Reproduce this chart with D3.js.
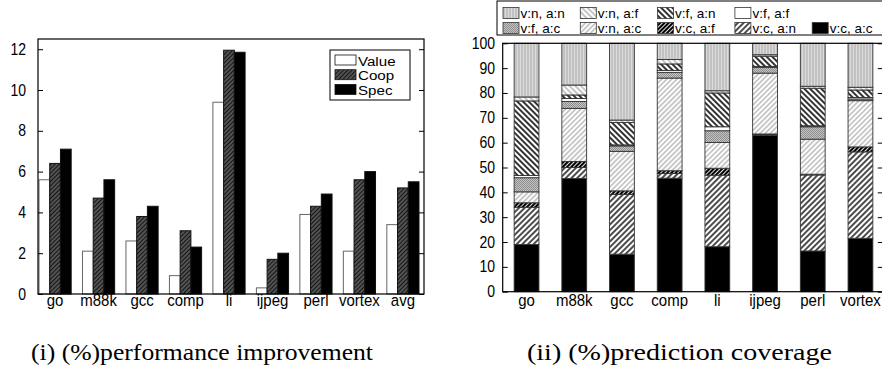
<!DOCTYPE html>
<html>
<head>
<meta charset="utf-8">
<script src="https://cdn.jsdelivr.net/npm/d3@7"></script>
<style>
  body { margin: 0; background: #fff; }
  svg { display: block; }
  .tick-label { font-family: "Liberation Sans", Arial, sans-serif; font-size: 15px; fill: #000; }
  .caption { font-family: "Liberation Serif", "DejaVu Serif", serif; font-size: 23px; fill: #000; }
</style>
</head>
<body>
<svg id="fig" width="882" height="374"></svg>
<script>
// ---- data: (i) performance improvement ----
const perfCats = ["go", "m88k", "gcc", "comp", "li", "ijpeg", "perl", "vortex", "avg"];
const perfSeries = ["Value", "Coop", "Spec"];
const valueImp = [5.6, 2.1, 2.6, 0.9, 9.4, 0.3, 3.9, 2.1, 3.4];
const coopImp = [6.4, 4.7, 3.8, 3.1, 11.95, 1.7, 4.3, 5.6, 5.2];
const specImp = [7.1, 5.6, 4.3, 2.3, 11.85, 2.0, 4.9, 6.0, 5.5];
const perfTicks = [0, 2, 4, 6, 8, 10, 12];

// ---- data: (ii) prediction coverage (stack order bottom -> top) ----
const covCats = ["go", "m88k", "gcc", "comp", "li", "ijpeg", "perl", "vortex"];
const covKeys = ["v:c, a:c", "v:c, a:n", "v:c, a:f", "v:n, a:c", "v:f, a:c", "v:f, a:f", "v:f, a:n", "v:n, a:f", "v:n, a:n"];
const vcac = [19.0, 45.6, 15.1, 45.7, 18.1, 63.0, 16.4, 21.5];
const vcan = [15.0, 4.4, 24.1, 1.9, 28.8, 0.3, 30.6, 34.8];
const vcaf = [1.8, 2.4, 1.4, 1.1, 2.8, 0.2, 0.3, 2.0];
const vnac = [4.4, 21.4, 15.9, 37.3, 10.4, 24.5, 14.1, 18.6];
const vfac = [5.7, 2.8, 2.2, 2.3, 4.7, 2.3, 5.0, 0.7];
const vfaf = [0.9, 1.2, 0.4, 0.8, 1.6, 0.4, 0.4, 0.6];
const vfan = [30.0, 1.4, 9.0, 2.6, 13.6, 4.1, 15.1, 3.0];
const vnaf = [1.6, 4.0, 1.0, 1.8, 0.9, 0.6, 0.8, 1.1];
const vnan = [21.6, 16.8, 30.9, 6.5, 19.1, 4.6, 17.3, 17.7];
const covTicks = [0, 10, 20, 30, 40, 50, 60, 70, 80, 90, 100];
const legendOrder = ["v:n, a:n", "v:n, a:f", "v:f, a:n", "v:f, a:f", "v:f, a:c", "v:n, a:c", "v:c, a:f", "v:c, a:n", "v:c, a:c"];

const svg = d3.select("#fig");
const defs = svg.append("defs");

// hatch pattern helper
function hatch(id, angle, gap, bg, stroke, sw) {
  const p = defs.append("pattern")
    .attr("id", id)
    .attr("patternUnits", "userSpaceOnUse")
    .attr("width", gap).attr("height", gap)
    .attr("patternTransform", "rotate(" + angle + ")");
  p.append("rect").attr("width", gap).attr("height", gap).attr("fill", bg);
  p.append("line").attr("x1", gap / 2).attr("x2", gap / 2).attr("y1", 0).attr("y2", gap)
    .attr("stroke", stroke).attr("stroke-width", sw);
}
hatch("coopPat", 45, 3, "#5e5e5e", "#151515", 1.3);
hatch("pNF", -45, 4, "#fff", "#8c8c8c", 1);
hatch("pFN", -45, 4, "#fff", "#000", 1.6);
hatch("pNC", 45, 3.6, "#fff", "#9a9a9a", 1);
hatch("pCF", 45, 3, "#000", "#fff", 0.9);
hatch("pCN", 45, 4, "#fff", "#000", 1.4);
// vertical streaked gray
const pnn = defs.append("pattern").attr("id", "pNN").attr("patternUnits", "userSpaceOnUse")
  .attr("width", 3).attr("height", 4);
pnn.append("rect").attr("width", 3).attr("height", 4).attr("fill", "#c2c2c2");
pnn.append("rect").attr("x", 1).attr("width", 1).attr("height", 4).attr("fill", "#dadada");
// dotted gray
const pfc = defs.append("pattern").attr("id", "pFC").attr("patternUnits", "userSpaceOnUse")
  .attr("width", 2).attr("height", 2);
pfc.append("rect").attr("width", 2).attr("height", 2).attr("fill", "#c4c4c4");
pfc.append("rect").attr("width", 1).attr("height", 1).attr("fill", "#8e8e8e");
pfc.append("rect").attr("x", 1).attr("y", 1).attr("width", 1).attr("height", 1).attr("fill", "#8e8e8e");

const perfFill = { Value: "#fff", Coop: "url(#coopPat)", Spec: "#000" };
const covFill = {
  "v:n, a:n": "url(#pNN)", "v:n, a:f": "url(#pNF)", "v:f, a:n": "url(#pFN)", "v:f, a:f": "#fff",
  "v:f, a:c": "url(#pFC)", "v:n, a:c": "url(#pNC)", "v:c, a:f": "url(#pCF)", "v:c, a:n": "url(#pCN)",
  "v:c, a:c": "#000"
};

// text with a slight vertical stretch, like the scanned figure
function label(g, x, y, txt, anchor, size, sx, sy) {
  return g.append("text").attr("class", "tick-label")
    .attr("transform", "translate(" + x + "," + y + ") scale(" + sx + "," + sy + ")")
    .attr("text-anchor", anchor).style("font-size", size + "px").text(txt);
}

// ================= chart (i) =================
const L = { left: 38, right: 424, top: 39, bottom: 294 };
const y1 = d3.scaleLinear().domain([0, 12.5]).range([L.bottom, L.top]);
const x1 = d3.scaleBand().domain(perfCats).range([39, 419]).paddingInner(0.26).paddingOuter(0);
const xs1 = d3.scaleBand().domain(perfSeries).range([0, x1.bandwidth()]);
const perfRows = perfCats.map((c, i) => ({ cat: c, Value: valueImp[i], Coop: coopImp[i], Spec: specImp[i] }));

const g1 = svg.append("g");
g1.selectAll("g.grp").data(perfRows).enter().append("g")
  .attr("transform", d => "translate(" + x1(d.cat) + ",0)")
  .selectAll("rect").data(d => perfSeries.map(k => ({ key: k, v: d[k] }))).enter()
  .append("rect")
  .attr("x", d => xs1(d.key))
  .attr("y", d => y1(d.v))
  .attr("width", xs1.bandwidth())
  .attr("height", d => y1(0) - y1(d.v))
  .attr("fill", d => perfFill[d.key])
  .attr("stroke", d => d.key === "Value" ? "#666" : "#111")
  .attr("stroke-width", 1);

// frame
g1.append("rect").attr("x", L.left).attr("y", L.top)
  .attr("width", L.right - L.left).attr("height", L.bottom - L.top)
  .attr("fill", "none").attr("stroke", "#000").attr("stroke-width", 1.2);
// ticks inward on both sides
g1.append("g").attr("transform", "translate(" + L.left + ",0)")
  .call(d3.axisRight(y1).tickValues(perfTicks).tickSize(5).tickFormat(""))
  .call(a => a.select(".domain").remove());
g1.append("g").attr("transform", "translate(" + L.right + ",0)")
  .call(d3.axisLeft(y1).tickValues(perfTicks).tickSize(5).tickFormat(""))
  .call(a => a.select(".domain").remove());
g1.selectAll(".tick line").attr("stroke", "#000");
// tick labels
perfTicks.forEach(t => label(g1, 26, y1(t) + 5.5, t, "end", 14, 1, 1.15));
perfCats.forEach(c => label(g1, x1(c) + x1.bandwidth() / 2, 306, c, "middle", 15, 1, 1.1));
// legend
const lg1 = g1.append("g");
lg1.append("rect").attr("x", 330).attr("y", 50).attr("width", 80).attr("height", 50)
  .attr("fill", "#fff").attr("stroke", "#000").attr("stroke-width", 1);
perfSeries.forEach((k, i) => {
  lg1.append("rect").attr("x", 335).attr("y", 55 + i * 14.7).attr("width", 21).attr("height", 10)
    .attr("fill", perfFill[k]).attr("stroke", "#111").attr("stroke-width", 0.8);
  label(lg1, 358, 65.5 + i * 14.7, k, "start", 13.5, 1.12, 1);
});

// ================= chart (ii) =================
const R = { left: 502.7, right: 884.3, top: 43.3, bottom: 291.7 };
const y2 = d3.scaleLinear().domain([0, 100]).range([R.bottom, R.top]);
const x2 = d3.scaleBand().domain(covCats).range([R.left, R.right]).paddingInner(0.48).paddingOuter(0.24);
const seriesArrays = {
  "v:c, a:c": vcac, "v:c, a:n": vcan, "v:c, a:f": vcaf, "v:n, a:c": vnac, "v:f, a:c": vfac,
  "v:f, a:f": vfaf, "v:f, a:n": vfan, "v:n, a:f": vnaf, "v:n, a:n": vnan
};
const covRows = covCats.map((c, i) => {
  const r = { cat: c };
  covKeys.forEach(k => { r[k] = seriesArrays[k][i]; });
  return r;
});
const stacked = d3.stack().keys(covKeys)(covRows);

const g2 = svg.append("g");
g2.selectAll("g.layer").data(stacked).enter().append("g")
  .attr("fill", d => covFill[d.key])
  .selectAll("rect").data(d => d).enter().append("rect")
  .attr("x", d => x2(d.data.cat))
  .attr("y", d => y2(d[1]))
  .attr("width", x2.bandwidth())
  .attr("height", d => y2(d[0]) - y2(d[1]))
  .attr("stroke", "#333").attr("stroke-width", 0.9);

g2.append("rect").attr("x", R.left).attr("y", R.top)
  .attr("width", R.right - R.left).attr("height", R.bottom - R.top)
  .attr("fill", "none").attr("stroke", "#000").attr("stroke-width", 1.2);
g2.append("g").attr("transform", "translate(" + R.left + ",0)")
  .call(d3.axisRight(y2).tickValues(covTicks).tickSize(5).tickFormat(""))
  .call(a => a.select(".domain").remove());
g2.append("g").attr("transform", "translate(" + (R.right - 1.5) + ",0)")
  .call(d3.axisLeft(y2).tickValues(covTicks).tickSize(5).tickFormat(""))
  .call(a => a.select(".domain").remove());
g2.selectAll(".tick line").attr("stroke", "#000");
covTicks.forEach(t => label(g2, 495, y2(t) + 5.5, t, "end", 14, 1, 1.15));
covCats.forEach(c => label(g2, x2(c) + x2.bandwidth() / 2, 306, c, "middle", 15, 1, 1.1));

// legend
const lg2 = g2.append("g");
lg2.append("rect").attr("x", 497).attr("y", 1).attr("width", 400).attr("height", 34)
  .attr("fill", "#fff").attr("stroke", "#000").attr("stroke-width", 1);
legendOrder.forEach((k, i) => {
  const row = i < 4 ? 0 : 1;
  const col = i < 4 ? i : i - 4;
  const lx = 503 + col * 77.3;
  const ly = 7.5 + row * 15;
  lg2.append("rect").attr("x", lx).attr("y", ly).attr("width", 16).attr("height", 11)
    .attr("fill", covFill[k]).attr("stroke", "#333").attr("stroke-width", 0.8);
  label(lg2, lx + 17.5, ly + 10.5, k, "start", 13.5, 1, 1);
});

// captions
svg.append("text").attr("class", "caption").attr("x", 31).attr("y", 360)
  .attr("textLength", 342).attr("lengthAdjust", "spacingAndGlyphs")
  .text("(i) (%)performance improvement");
svg.append("text").attr("class", "caption").attr("x", 527).attr("y", 360)
  .attr("textLength", 305).attr("lengthAdjust", "spacingAndGlyphs")
  .text("(ii) (%)prediction coverage");
</script>
</body>
</html>
